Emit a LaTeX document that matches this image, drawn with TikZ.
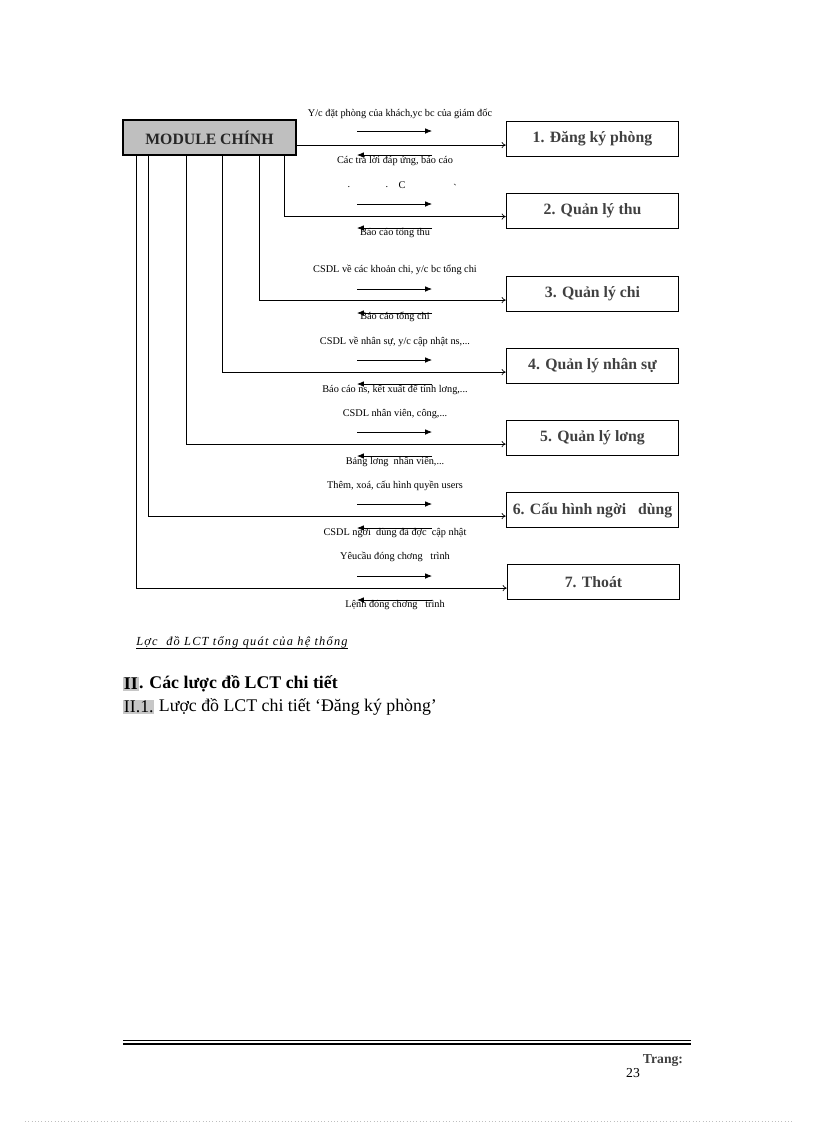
\documentclass[tikz,border=0pt]{standalone}
\usepackage{fontspec}
\setmainfont{Liberation Serif}
\usetikzlibrary{calc,positioning,arrows.meta}

\newcommand{\flowfont}{\fontsize{7.5}{8}\selectfont}
\newcommand{\boxfont}{\fontsize{11.5}{13}\selectfont\bfseries}

\tikzset{
  modbox/.style={draw, line width=0.6pt, minimum width=126pt, minimum height=25.5pt,
                 inner sep=0pt, font=\boxfont, text=black!75},
  mainbox/.style={draw, line width=1.4pt, fill=black!25, minimum width=126pt,
                  minimum height=26pt, inner sep=0pt, font=\boxfont, text=black!85},
  conn/.style={line width=0.5pt, -{To[length=3pt,width=4.5pt]}},
  flow/.style={line width=0.5pt, -{Latex[length=5pt,width=4pt]}},
  flowtext/.style={font=\flowfont, inner sep=0pt},
}

\begin{document}
\begin{tikzpicture}[x=0.7297pt, y=-0.7297pt]
    % page frame (A4 at 816 x 1123)
    \useasboundingbox (0,0) rectangle (816,1123);

    % Main module
    \node[mainbox] (main) at (209.5,137.5) {MODULE CHÍNH};

    % Sub modules on the right
    \node[modbox] (b1) at (592.5,139) {1. Đăng ký phòng};
    \node[modbox] (b2) at (592.5,210.5) {2. Quản lý thu};
    \node[modbox] (b3) at (592.5,294) {3. Quản lý chi};
    \node[modbox] (b4) at (592.5,366) {4. Quản lý nhân sự};
    \node[modbox] (b5) at (592.5,438) {5. Quản lý lơng};
    \node[modbox] (b6) at (592.5,510) {6. Cấu hình ngời\ \ \ dùng};
    \node[modbox] (b7) at (593.5,582) {7. Thoát};

    % Entry points on the left side of each sub module
    \foreach \n in {1,...,7}
        \coordinate (in\n) at ($(b\n.north west)!0.67!(b\n.south west)$);

    % Taps on the bottom of the main module
    \coordinate (t2) at (284,0);
    \coordinate (t3) at (259,0);
    \coordinate (t4) at (222,0);
    \coordinate (t5) at (186,0);
    \coordinate (t6) at (148,0);
    \coordinate (t7) at (136,0);

    % Connectors from main module to sub modules
    \draw[conn] (main.east |- in1) -- (in1);
    \foreach \n in {2,...,7}
        \draw[conn] (main.south -| t\n) |- (in\n);

    % Small data flow arrows
    \foreach \ly in {143,216,301,372,444,516,588} {
        \draw[flow] (357,\ly-12) -- (432,\ly-12);
        \draw[flow] (432,\ly+12) -- (357,\ly+12);
    }

    % Flow labels
    \node[flowtext] (a1t) at (400,114) {Y/c đặt phòng của khách,yc bc của giám đốc};
    \node[flowtext] (a1b) at (395,161) {Các trả lời đáp ứng, báo cáo};
    \node[flowtext] (s1) at (349,187) {.};
    \node[flowtext] (s2) at (387,187) {.};
    \node[flowtext] (s3) at (402,185) {C};
    \node[flowtext] (s4) at (455,188) {\textasciigrave};
    \node[flowtext] (a2b) at (395,233) {Báo cáo tổng thu};
    \node[flowtext] (a3t) at (395,270) {CSDL về các khoản chi, y/c bc tổng chi};
    \node[flowtext] (a3b) at (395,317) {Báo cáo tổng chi};
    \node[flowtext] (a4t) at (395,342) {CSDL về nhân sự, y/c cập nhật ns,...};
    \node[flowtext] (a4b) at (395,390) {Báo cáo ns, kết xuất để tính lơng,...};
    \node[flowtext] (a5t) at (395,414) {CSDL nhân viên, công,...};
    \node[flowtext] (a5b) at (395,462) {Bảng lơng\ \ nhân viên,...};
    \node[flowtext] (a6t) at (395,486) {Thêm, xoá, cấu hình quyền users};
    \node[flowtext] (a6b) at (395,533) {CSDL ngời\ \ dùng đã đợc\ \ cập nhật};
    \node[flowtext] (a7t) at (395,557) {Yêucầu đóng chơng\ \ \ trình};
    \node[flowtext] (a7b) at (395,605) {Lệnh đóng chơng\ \ \ trình};

    % Caption
    \node[font=\fontsize{9}{10}\selectfont\itshape\addfontfeature{LetterSpace=10},
          inner sep=0pt, anchor=west] (cap)
        at (136,642) {Lợc\ \ đồ LCT tổng quát của hệ thống};
    \draw[line width=0.4pt] (cap.south west) -- (cap.south east);

    % Section headings
    \node[font=\fontsize{13}{15}\selectfont\bfseries, fill=black!22, inner sep=0.5pt,
          anchor=west] (h1) at (123,684) {II};
    \node[font=\fontsize{13}{15}\selectfont\bfseries, inner sep=0pt, right=0pt of h1] (h1t)
        {. Các lược đồ LCT chi tiết};
    \node[font=\fontsize{13}{15}\selectfont, fill=black!22, inner sep=0.5pt,
          anchor=west] (h2) at (123,707) {II.1.};
    \node[font=\fontsize{13}{15}\selectfont, inner sep=0pt, right=3pt of h2] (h2t)
        {Lược đồ LCT chi tiết ‘Đăng ký phòng’};

    % Footer
    \draw[line width=0.4pt] (123,1040) -- (691,1040);
    \draw[line width=1.6pt] (123,1044) -- (691,1044);
    \node[font=\fontsize{10}{11}\selectfont\bfseries, text=black!75, inner sep=0pt] (pg)
        at (663,1061) {Trang:};
    \node[font=\fontsize{10}{11}\selectfont, inner sep=0pt] (pn) at (633,1073) {23};
    \draw[black!25, dotted] (25,1121) -- (792,1121);
\end{tikzpicture}
\end{document}
